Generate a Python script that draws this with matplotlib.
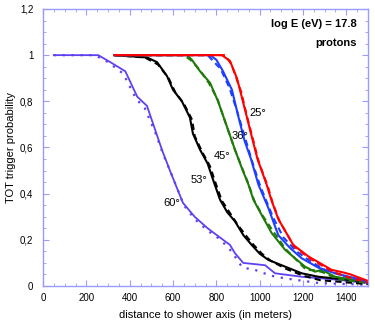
import numpy as np
import matplotlib.pyplot as plt
from matplotlib.ticker import MultipleLocator, FuncFormatter

plt.rcParams['font.family'] = ['Liberation Sans', 'DejaVu Sans']

# ---------------------------------------------------------------------
# Data (distance in m, TOT trigger probability)
# solid = first set, "b" = dashed / dotted companion curve
# ---------------------------------------------------------------------
x60 = [50, 255, 310, 380, 435, 480, 520, 549, 590, 646, 700, 760, 817, 863, 886, 924, 1025, 1071, 1194, 1325, 1500]
y60 = [1, 1, 0.97, 0.93, 0.82, 0.78, 0.67, 0.59, 0.49, 0.36, 0.30, 0.25, 0.21, 0.178, 0.142, 0.10, 0.09, 0.055, 0.04, 0.03, 0.013]
x60b = [50, 240, 300, 370, 430, 470, 520, 555, 595, 650, 700, 760, 820, 870, 920, 978, 1050, 1117, 1271, 1500]
y60b = [1, 1, 0.97, 0.92, 0.81, 0.77, 0.66, 0.57, 0.48, 0.35, 0.29, 0.24, 0.20, 0.15, 0.08, 0.07, 0.045, 0.033, 0.013, 0.005]

x53 = [330, 480, 526, 572, 600, 641, 678, 692, 725, 760, 785, 817, 850, 886, 925, 963, 1000, 1040, 1117, 1194, 1271, 1500]
y53 = [1, 0.99, 0.97, 0.91, 0.85, 0.80, 0.73, 0.66, 0.59, 0.53, 0.46, 0.374, 0.32, 0.28, 0.22, 0.178, 0.14, 0.113, 0.084, 0.055, 0.04, 0.018]
x53b = [330, 470, 530, 580, 610, 650, 688, 700, 735, 770, 795, 825, 860, 895, 935, 970, 1010, 1050, 1120, 1200, 1280, 1500]
y53b = [1, 0.99, 0.96, 0.90, 0.84, 0.79, 0.72, 0.65, 0.58, 0.52, 0.45, 0.37, 0.32, 0.27, 0.22, 0.18, 0.14, 0.11, 0.075, 0.045, 0.025, 0.008]

x45 = [330, 664, 687, 725, 771, 808, 849, 886, 918, 948, 971, 1002, 1055, 1117, 1209, 1255, 1286, 1348, 1500]
y45 = [1, 1, 0.98, 0.93, 0.88, 0.80, 0.69, 0.59, 0.51, 0.44, 0.374, 0.32, 0.23, 0.157, 0.084, 0.062, 0.07, 0.04, 0.018]
x45b = [330, 650, 680, 720, 765, 805, 845, 882, 915, 945, 975, 1010, 1060, 1120, 1215, 1255, 1290, 1360, 1500]
y45b = [1, 1, 0.98, 0.94, 0.88, 0.81, 0.70, 0.60, 0.52, 0.45, 0.37, 0.31, 0.24, 0.16, 0.07, 0.068, 0.06, 0.03, 0.012]

x36 = [330, 771, 800, 831, 872, 900, 930, 960, 994, 1040, 1086, 1140, 1194, 1270, 1348, 1500]
y36 = [1, 1, 0.98, 0.93, 0.85, 0.74, 0.63, 0.55, 0.44, 0.338, 0.22, 0.165, 0.12, 0.08, 0.055, 0.02]
x36b = [330, 760, 820, 860, 895, 930, 965, 1000, 1017, 1063, 1110, 1170, 1230, 1300, 1400, 1500]
y36b = [1, 1, 0.94, 0.86, 0.76, 0.65, 0.54, 0.44, 0.40, 0.295, 0.21, 0.15, 0.11, 0.07, 0.04, 0.015]

x25 = [330, 826, 863, 895, 909, 936, 960, 990, 1032, 1055, 1086, 1155, 1225, 1332, 1380, 1417, 1500]
y25 = [1, 1, 0.975, 0.90, 0.85, 0.75, 0.66, 0.55, 0.44, 0.37, 0.29, 0.178, 0.128, 0.07, 0.06, 0.051, 0.022]
x25b = [330, 840, 870, 900, 915, 940, 965, 995, 1038, 1060, 1092, 1160, 1230, 1340, 1420, 1500]
y25b = [1, 1, 0.96, 0.88, 0.84, 0.74, 0.65, 0.54, 0.43, 0.36, 0.28, 0.17, 0.12, 0.06, 0.035, 0.015]

angle_labels = ['25°', '36°', '45°', '53°', '60°']
label_x = [992, 909, 826, 722, 595]
label_y = [0.75, 0.648, 0.561, 0.46, 0.36]

# ---------------------------------------------------------------------
fig = plt.figure(figsize=(3.75, 3.27), dpi=100)
ax = fig.add_axes([0.1147, 0.1254, 0.8666, 0.8471])

c60 = '#6040f0'
c53 = 'black'
c45 = '#1f7a0a'
c36 = '#1f3fff'
c25 = '#ff0000'

ax.plot(x60, y60, color=c60, lw=1.3)
ax.plot(x60b, y60b, color=c60, lw=1.6, ls=(0, (1, 3)))
ax.plot(x53, y53, color=c53, lw=1.5)
ax.plot(x53b, y53b, color=c53, lw=1.5, ls=(0, (3, 2)))
ax.plot(x45, y45, color=c45, lw=1.5)
ax.plot(x45b, y45b, color=c45, lw=1.5, ls=(0, (3, 2)))
ax.plot(x36, y36, color=c36, lw=1.5)
ax.plot(x36b, y36b, color=c36, lw=1.5, ls=(0, (3, 2)))
ax.plot(x25, y25, color=c25, lw=1.5)
ax.plot(x25b, y25b, color=c25, lw=1.5, ls=(0, (3, 2)))

for lab, lx, ly in zip(angle_labels, label_x, label_y):
    ax.text(lx, ly, lab, fontsize=8, ha='center', va='center')

ax.text(1449, 1.135, 'log E (eV) = 17.8', fontsize=8, fontweight='bold', ha='right', va='center')
ax.text(1449, 1.052, 'protons', fontsize=8, fontweight='bold', ha='right', va='center')

ax.set_xlim(0, 1500)
ax.set_ylim(0, 1.2)
ax.xaxis.set_major_locator(MultipleLocator(200))
ax.xaxis.set_minor_locator(MultipleLocator(50))
ax.yaxis.set_major_locator(MultipleLocator(0.2))
ax.yaxis.set_minor_locator(MultipleLocator(0.05))
ax.yaxis.set_major_formatter(FuncFormatter(lambda v, p: ('%g' % round(v, 2)).replace('.', ',')))

frame = '#9a9aff'
for s in ax.spines.values():
    s.set_color(frame)
    s.set_linewidth(1.0)
ax.tick_params(which='both', direction='in', top=True, right=True, color=frame, labelsize=7)
ax.tick_params(which='major', length=4)
ax.tick_params(which='minor', length=2)
ax.tick_params(axis='y', pad=7)
ax.tick_params(axis='x', pad=5)

ax.set_xlabel('distance to shower axis (in meters)', fontsize=8, labelpad=5)
ax.set_ylabel('TOT trigger probability', fontsize=8, labelpad=3)

fig.savefig('out.png', dpi=100)
